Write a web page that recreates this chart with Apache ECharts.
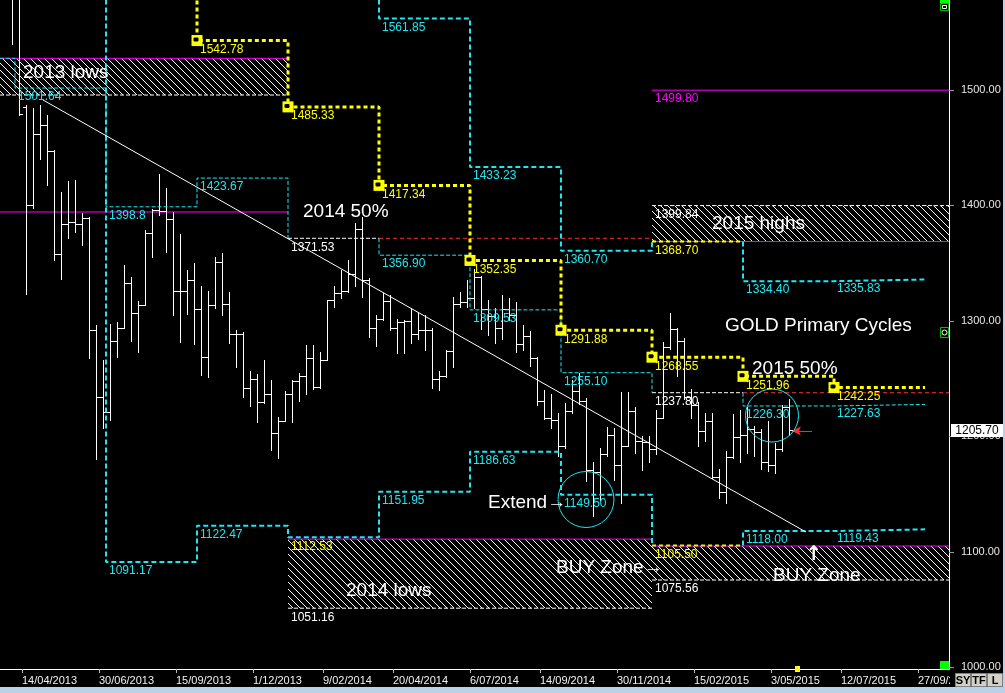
<!DOCTYPE html>
<html><head><meta charset="utf-8">
<script src="https://cdn.jsdelivr.net/npm/echarts@6/dist/echarts.min.js"></script>
<style>html,body{margin:0;padding:0;background:#000;overflow:hidden}#c{width:1005px;height:693px}</style>
</head><body><div id="c"></div>
<script>
// ---------------- DATA ----------------
const firstBarDate = '2013-04-04';           // weekly bars, one per week
const barOpen  = [1597,1582,1485,1400,1462,1470,1447,1358,1384,1386,1384,1389,1292,1234,1221,1283,1294,1333,1307,1314,1376,1396,1395,1388,1326,1326,1335,1310,1269,1314,1351,1315,1289,1289,1242,1250,1230,1237,1203,1213,1237,1248,1252,1268,1243,1266,1318,1324,1326,1341,1380,1335,1294,1302,1317,1294,1299,1300,1289,1292,1292,1250,1252,1274,1315,1316,1320,1338,1310,1304,1294,1310,1305,1280,1287,1268,1231,1216,1214,1192,1222,1239,1231,1171,1169,1185,1201,1175,1192,1222,1196,1195,1189,1216,1277,1293,1283,1234,1227,1205,1213,1165,1152,1182,1199,1201,1206,1204,1178,1175,1189,1225];
const barHigh  = [1605,1590,1487,1484,1487,1478,1448,1412,1421,1422,1393,1390,1296,1266,1297,1299,1348,1338,1317,1379,1397,1427,1415,1394,1375,1344,1350,1330,1326,1355,1359,1325,1292,1290,1257,1254,1266,1249,1217,1239,1249,1255,1279,1279,1273,1318,1330,1344,1353,1385,1390,1337,1305,1324,1322,1302,1301,1311,1307,1305,1294,1257,1275,1321,1325,1335,1345,1339,1318,1311,1322,1320,1316,1296,1291,1269,1240,1237,1220,1229,1249,1255,1233,1178,1190,1208,1207,1238,1238,1225,1200,1200,1223,1282,1307,1294,1285,1241,1230,1220,1220,1172,1187,1219,1223,1225,1209,1206,1213,1194,1227,1232];
const barLow   = [1540,1478,1323,1398,1440,1418,1353,1336,1372,1377,1366,1268,1180,1207,1214,1269,1294,1283,1273,1314,1355,1392,1360,1305,1282,1306,1280,1253,1251,1311,1305,1281,1260,1234,1226,1212,1229,1188,1181,1213,1212,1231,1237,1241,1242,1266,1312,1320,1325,1330,1321,1286,1278,1301,1292,1272,1272,1281,1284,1275,1242,1240,1251,1260,1312,1312,1311,1293,1288,1281,1284,1301,1273,1275,1261,1227,1215,1207,1183,1190,1220,1228,1161,1131,1145,1183,1162,1142,1192,1186,1171,1178,1185,1216,1276,1252,1232,1216,1192,1196,1164,1147,1142,1181,1178,1186,1183,1172,1170,1168,1187,1201];
const barClose = [1582,1479,1400,1462,1470,1447,1358,1384,1386,1384,1389,1292,1234,1221,1283,1294,1333,1307,1314,1376,1396,1395,1388,1326,1326,1335,1310,1269,1314,1351,1315,1289,1289,1242,1250,1230,1237,1203,1213,1237,1248,1252,1268,1243,1266,1318,1324,1326,1341,1380,1335,1294,1302,1317,1294,1299,1300,1289,1292,1292,1250,1252,1274,1315,1316,1320,1338,1310,1304,1294,1310,1305,1280,1287,1268,1231,1216,1214,1192,1222,1239,1231,1171,1169,1185,1201,1175,1192,1222,1196,1195,1189,1216,1277,1293,1283,1234,1227,1205,1213,1165,1152,1182,1199,1201,1206,1204,1178,1175,1189,1225,1205.7];
const lastPrice = 1205.70;

// quarter (cycle) boundaries
const quarterDates = ['2013-04-07','2013-07-07','2013-10-06','2014-01-05','2014-04-06','2014-07-06','2014-10-05','2015-01-04','2015-04-05','2015-07-05','2015-10-04'];
// level for segment quarter k -> k+1 (null = not drawn); OFF = above chart
const OFF = 1620;
const yellowMid  = [null,null,1542.78,1485.33,1417.34,1352.35,1291.88,1268.55,1251.96,1242.25];
const cyanLow    = [null,1091.17,1122.47,1112.53,1151.95,1186.63,1149.50,1105.50,1118.00,1119.43];
const cyanHigh   = [null,null,null,null,1561.85,1433.23,1360.70,1368.70,1334.40,1335.83];
const cyanThin   = [1501.64,1398.8,1423.67,1371.53,1356.90,1309.53,1255.10,1237.80,1226.30,1227.63];
const preQ0Level = 1527.4;

// zones
const zoneNames   = ['2013 lows','2014 lows','2015 highs','BUY Zone'];
const zoneFrom    = ['MIN','2014-01-05','2015-01-04','2015-01-04'];
const zoneTo      = ['2014-01-05','2015-01-04','MAX','MAX'];
const zoneMagenta = [1527.4,1111.0,1368.70,1105.0];
const zoneDashed  = [1495.6,1051.16,1399.84,1075.56];
const extraMagenta = [['MIN','2014-01-05',1394.3],['2015-01-04','MAX',1499.80]];
const fiftyPct = [['2014-01-05','2014-04-06','2015-01-04',1371.53],['2015-01-04','2015-04-05','MAX',1237.80]];

const trendLine = [['2013-05-05',1491.3],['2015-06-07',1117.1]];
const circles = [['2014-10-30',1145.3,56],['2015-05-04',1218.0,53]];
const arrowRed = [['2015-06-13',1204.7],['2015-05-24',1204.7]];

const xTickDates = ['2013-04-14','2013-06-30','2013-09-15','2013-12-01','2014-02-09','2014-04-20','2014-07-06','2014-09-14','2014-11-30','2015-02-15','2015-05-03','2015-07-12','2015-09-27'];
const yTickValues = [1000,1100,1200,1300,1400,1500];
const xMinDate = '2013-03-23', xMaxDate = '2015-10-28';
const yMin = 998.5, yMax = 1577.9;

const annotations = [
  ['2013-04-15',1514.7,'2013 lows'],
  ['2014-01-20',1394.3,'2014 50%'],
  ['2015-03-05',1383.9,'2015 highs'],
  ['2015-03-18',1295.5,'GOLD Primary Cycles'],
  ['2015-04-14',1258.3,'2015 50%'],
  ['2014-07-24',1142.3,'Extend\u2192'],
  ['2014-09-30',1085.9,'BUY Zone\u2192'],
  ['2014-03-04',1066.0,'2014 lows'],
  ['2015-05-05',1079.0,'BUY Zone']
];
const upArrow = ['2015-06-15',1097.2];

// ---------------- HELPERS ----------------
const T = s => { if (s==='MIN') s=xMinDate; if (s==='MAX') s=xMaxDate; const [y,m,d]=s.split('-').map(Number); return Date.UTC(y,m-1,d,12); };
const DAY = 86400000;
const CY='#1de8f2', YE='#ffff00', MG='#ff00ff', WH='#ffffff', RD='#ff2a2a';
const BRK = ['-','-'];
const Q = quarterDates;

function stepLine(levels, entry, skip){
  const pts=[]; let started=false;
  levels.forEach((v,k)=>{
    if (v==null) return;
    if (!started && entry!=null) pts.push([T(Q[k]),entry]);
    started=true;
    pts.push([T(Q[k]),v]);
    if (skip && skip.includes(k)) pts.push(BRK);
    pts.push([T(Q[k+1]),v]);
  });
  return pts;
}
const hseg = (a,b,v)=>[[T(a),v],[T(b),v]];
function line(data,color,width,dash,z,extra){
  return Object.assign({type:'line',data,symbol:'none',showSymbol:false,silent:true,animation:false,z,
    connectNulls:false,clip:true,lineStyle:{color,width,type:dash||'solid',cap:'butt',opacity:1}},extra||{});
}
const fmt = v => v===1398.8 ? '1398.8' : v.toFixed(2);

// hatch pattern
const pc=document.createElement('canvas'); pc.width=7; pc.height=7;
const pctx=pc.getContext('2d'); pctx.fillStyle='#000'; pctx.fillRect(0,0,7,7);
pctx.fillStyle='#fff'; for(let i=0;i<7;i++) pctx.fillRect(i,i,1,1);

// ---------------- SERIES ----------------
const series=[];
series.push({type:'line',data:[],silent:true,z:1,animation:false,
  markArea:{silent:true,itemStyle:{color:{image:pc,repeat:'repeat'},opacity:1},
    data:zoneNames.map((n,i)=>[{xAxis:T(zoneFrom[i]),yAxis:zoneMagenta[i]},{xAxis:T(zoneTo[i]),yAxis:zoneDashed[i]}])}});
zoneNames.forEach((n,i)=>{
  series.push(line(hseg(zoneFrom[i],zoneTo[i],zoneMagenta[i]),MG,1,'solid',2));
  series.push(line(hseg(zoneFrom[i],zoneTo[i],zoneDashed[i]),WH,1,[4,2],2));
});
extraMagenta.forEach(e=>series.push(line(hseg(e[0],e[1],e[2]),MG,1,'solid',2)));
fiftyPct.forEach(f=>{
  series.push(line(hseg(f[0],f[1],f[3]),WH,1,[4,2],2));
  series.push(line(hseg(f[1],f[2],f[3]),RD,1,[4,3],2));
});

// OHLC bars
const barData = barOpen.map((o,i)=>[T(firstBarDate)+i*7*DAY,o,barHigh[i],barLow[i],barClose[i]]);
series.push({type:'custom',data:barData,z:3,clip:true,silent:true,animation:false,
  encode:{x:0,y:[1,2,3,4]},
  renderItem:(params,api)=>{
    const t=api.value(0);
    const pO=api.coord([t,api.value(1)]), pH=api.coord([t,api.value(2)]),
          pL=api.coord([t,api.value(3)]), pC=api.coord([t,api.value(4)]);
    const x=Math.round(pO[0])+0.5, yo=Math.round(pO[1])+0.5, yc=Math.round(pC[1])+0.5;
    const st={stroke:'#fff',lineWidth:1};
    return {type:'group',children:[
      {type:'line',shape:{x1:x,y1:Math.round(pH[1]),x2:x,y2:Math.round(pL[1])+1},style:st},
      {type:'line',shape:{x1:x-3.5,y1:yo,x2:x,y2:yo},style:st},
      {type:'line',shape:{x1:x,y1:yc,x2:x+3.5,y2:yc},style:st}
    ]};
  }});

// cycle step lines
series.push(line([[T(xMinDate),preQ0Level]].concat(stepLine(cyanThin,preQ0Level,[3,7])),CY,1,[4,2],4));
series.push(line(stepLine(cyanLow,OFF,[7]),CY,2,[5,3],4));
series.push(line(hseg(Q[7],Q[8],cyanLow[7]),'#e6f000',2,[4,3],4));
series.push(line(stepLine(cyanHigh,OFF,[7]),CY,2,[5,3],4));
series.push(line(hseg(Q[7],Q[8],cyanHigh[7]),YE,2,[4,3],4));
series.push(line(stepLine(yellowMid,OFF),YE,3,[4,3],4));

// trend line
series.push(line(trendLine.map(p=>[T(p[0]),p[1]]),WH,1,'solid',5));

// circles
series.push({type:'scatter',silent:true,z:5,animation:false,
  data:circles.map(c=>({value:[T(c[0]),c[1]],symbolSize:c[2]})),
  symbol:'circle',itemStyle:{color:'rgba(0,0,0,0)',borderColor:CY,borderWidth:1,opacity:1}});
// red arrow
series.push({type:'line',data:[],silent:true,z:5,animation:false,
  markLine:{silent:true,symbol:['none','arrow'],symbolSize:[7,9],label:{show:false},
    lineStyle:{color:RD,width:1,type:'solid',opacity:1},
    data:[[{coord:[T(arrowRed[0][0]),arrowRed[0][1]]},{coord:[T(arrowRed[1][0]),arrowRed[1][1]]}]]}});

// yellow markers
const markerPts = yellowMid.map((v,k)=>v==null?null:[T(Q[k]),v]).filter(Boolean);
series.push({type:'scatter',silent:true,z:6,animation:false,data:markerPts,symbol:'rect',symbolSize:11,itemStyle:{color:YE,opacity:1}});
series.push({type:'scatter',silent:true,z:7,animation:false,data:markerPts,symbol:'roundRect',symbolSize:[5,4],symbolOffset:[-1,-1],itemStyle:{color:'#000',opacity:1}});

// value labels
const lbl=[];
const addL=(d,v,c)=>lbl.push({name:fmt(v),value:[T(d),v],label:{color:c}});
yellowMid.forEach((v,k)=>{ if(v!=null) addL(Q[k],v,YE); });
cyanLow.forEach((v,k)=>{ if(v!=null) addL(Q[k],v,(k===3||k===7)?YE:CY); });
cyanHigh.forEach((v,k)=>{ if(v!=null) addL(Q[k],v,k===7?YE:CY); });
cyanThin.forEach((v,k)=>{ if(v!=null) addL(Q[k],v,(k===3||k===7)?WH:CY); });
addL(zoneFrom[1],zoneDashed[1],WH); addL(zoneFrom[3],zoneDashed[3],WH);
addL(zoneFrom[2],zoneDashed[2],WH); addL(extraMagenta[1][0],extraMagenta[1][2],MG);
series.push({type:'scatter',silent:true,z:8,animation:false,data:lbl,symbolSize:0,
  itemStyle:{opacity:1,color:'#000'},
  label:{show:true,opacity:1,position:[3,3],align:'left',verticalAlign:'top',formatter:'{b}',
    fontFamily:'Liberation Sans',fontSize:12}});

// annotations
series.push({type:'scatter',silent:true,z:9,animation:false,symbolSize:0,
  itemStyle:{opacity:1,color:'#000'},
  data:annotations.map(a=>({name:a[2],value:[T(a[0]),a[1]]})),
  label:{show:true,opacity:1,position:'right',distance:0,formatter:'{b}',color:WH,
    fontFamily:'Liberation Sans, Arial, sans-serif',fontSize:19}});
series.push({type:'scatter',silent:true,z:9,animation:false,symbolSize:0,
  itemStyle:{opacity:1,color:'#000'},
  data:[{name:'\u2191',value:[T(upArrow[0]),upArrow[1]]}],
  label:{show:true,opacity:1,position:'inside',formatter:'{b}',color:WH,fontFamily:'DejaVu Sans',fontSize:20,fontWeight:'bold'}});

// ---------------- CHART ----------------
const chart=echarts.init(document.getElementById('c'),null,{renderer:'canvas'});
const pad2=n=>(n<10?'0':'')+n;
chart.setOption({
  backgroundColor:'#000',animation:false,
  grid:{left:0,top:0,right:56,bottom:24,containLabel:false,outerBoundsMode:'none'},
  xAxis:{type:'value',min:T(xMinDate),max:T(xMaxDate),
    axisLine:{show:true,lineStyle:{color:'#fff',width:1}},
    axisTick:{show:true,customValues:xTickDates.map(T),length:4,lineStyle:{color:'#bbb'}},
    axisLabel:{show:true,customValues:xTickDates.map(T),align:'left',margin:6,color:'#f2f2f2',
      fontFamily:'Liberation Sans, Arial',fontSize:11,hideOverlap:false,showMinLabel:true,showMaxLabel:true,
      formatter:v=>{const d=new Date(v);return d.getUTCDate()+'/'+pad2(d.getUTCMonth()+1)+'/'+d.getUTCFullYear();}},
    splitLine:{show:false}},
  yAxis:{type:'value',position:'right',min:yMin,max:yMax,
    axisLine:{show:true,lineStyle:{color:'#fff',width:1}},
    axisTick:{show:true,customValues:yTickValues,length:5,lineStyle:{color:'#999'}},
    axisLabel:{show:true,customValues:yTickValues,margin:12,color:'#e6e6e6',
      fontFamily:'Liberation Sans, Arial',fontSize:11,formatter:v=>v.toFixed(2)},
    splitLine:{show:false}},
  series
});

const yTag = chart.convertToPixel({yAxisIndex:0}, lastPrice);
const g=[];
g.push({type:'rect',shape:{x:950,y:673,width:53,height:14},style:{fill:'#000'},z:50});
g.push({type:'rect',shape:{x:951,y:Math.round(yTag)-6,width:52,height:13},style:{fill:'#fff'},z:60});
g.push({type:'text',x:977,y:Math.round(yTag)+0.5,style:{text:lastPrice.toFixed(2),fill:'#000',font:'12px Liberation Sans',align:'center',verticalAlign:'middle'},z:61});
g.push({type:'rect',shape:{x:0,y:687,width:1005,height:6},style:{fill:'#bcd0e8'},z:50});
g.push({type:'rect',shape:{x:1003,y:0,width:2,height:693},style:{fill:'#bcd0e8'},z:50});
[['SY',955],['TF',971],['L',987]].forEach(b=>{
  g.push({type:'rect',shape:{x:b[1]+0.5,y:673.5,width:15,height:13},style:{fill:'#d4d0c8',stroke:'#808080',lineWidth:1},z:60});
  g.push({type:'text',x:b[1]+8,y:680.5,style:{text:b[0],fill:'#000',font:'bold 11px Liberation Sans',align:'center',verticalAlign:'middle'},z:61});
});
g.push({type:'rect',shape:{x:940,y:661,width:9,height:8},style:{fill:'#00ff00'},z:60});
g.push({type:'rect',shape:{x:940,y:0,width:9,height:3},style:{fill:'#00ff00'},z:60});
g.push({type:'rect',shape:{x:940.5,y:3.5,width:8,height:7},style:{fill:'#000',stroke:'#00c000'},z:60});
g.push({type:'rect',shape:{x:942.5,y:5.5,width:4,height:3},style:{fill:'none',stroke:'#fff'},z:61});
g.push({type:'rect',shape:{x:940.5,y:327.5,width:8,height:10},style:{fill:'#000',stroke:'#00c000'},z:60});
g.push({type:'circle',shape:{cx:944.5,cy:332.5,r:2.5},style:{fill:'none',stroke:'#fff'},z:61});
g.push({type:'rect',shape:{x:795,y:666,width:5,height:6},style:{fill:'#ffff00'},z:60});
chart.setOption({graphic:g});
</script></body></html>
